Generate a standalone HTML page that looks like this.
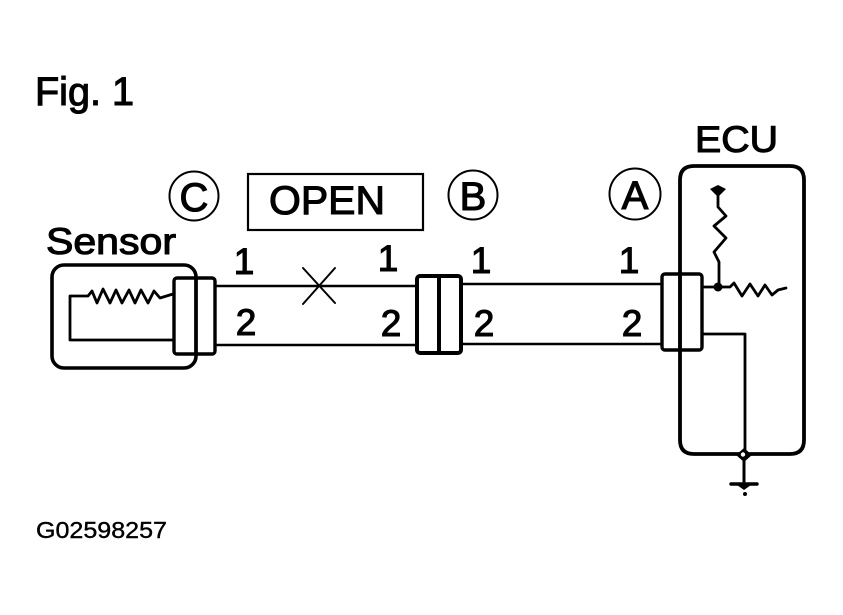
<!DOCTYPE html>
<html>
<head>
<meta charset="utf-8">
<style>
html,body{margin:0;padding:0;background:#fff;}
svg{display:block;}
text{font-family:"Liberation Sans",sans-serif;fill:#000;stroke:#000;stroke-width:1.1px;}
</style>
</head>
<body>
<svg width="843" height="615" viewBox="0 0 843 615" xmlns="http://www.w3.org/2000/svg">
<g fill="none" stroke="#000" stroke-linejoin="round" stroke-linecap="round">
  <!-- Sensor box -->
  <rect x="52" y="265" width="144" height="103" rx="12" stroke-width="3.6"/>
  <!-- ECU box -->
  <path d="M680 350V180Q680 166 694 166H790Q804 166 804 180V440Q804 454 790 454H694Q680 454 680 440Z" stroke-width="3.8"/>
  <path d="M680 273V350" stroke-width="3.4"/>

  <!-- Connectors -->
  <rect x="174" y="278" width="41" height="76" rx="3" stroke-width="3.4"/>
  <path d="M196 278V354" stroke-width="3.4"/>
  <rect x="417" y="276" width="44" height="77" rx="3" stroke-width="4"/>
  <path d="M439 276V353" stroke-width="4"/>
  <rect x="662" y="274" width="40" height="76" rx="3" stroke-width="3.4"/>

  <!-- Wires -->
  <path d="M215 286H417" stroke-width="2.4"/>
  <path d="M215 345H417" stroke-width="2.4"/>
  <path d="M461 284H662" stroke-width="2.4"/>
  <path d="M461 344H662" stroke-width="2.4"/>

  <!-- Open cross -->
  <path d="M303 268L335 303M335 268L303 304" stroke-width="2"/>

  <!-- Sensor wiring -->
  <path d="M173 340H70V296H88L92 291L97 303L103 289L110 303L116 290L122 303L129 290L135 303L141 290L148 303L154 291L160 298L173 294" stroke-width="2.8"/>

  <!-- ECU wiring -->
  <path d="M702 287H717" stroke-width="2.8"/>
  <path d="M718 190V207L726 216L714 226L726 238L714 252L719 262V287" stroke-width="2.8"/>
  <path d="M718 287H730L734 283L742 296L750 284L758 296L765 285L772 295L778 290L786 288" stroke-width="2.8"/>
  <path d="M702 334H745V451" stroke-width="2.8"/>
  <path d="M744 458V484" stroke-width="3"/>
  <path d="M731 484H757" stroke-width="3.4"/>
</g>
<!-- Nodes and ground -->
<path d="M710 189L718 185L726 189L718 197Z" fill="#000"/>
<circle cx="718" cy="287" r="4.5" fill="#000"/>
<path d="M744 448L752 455L744 462L736 455Z" fill="#000"/>
<circle cx="743" cy="454.500" r="2.2" fill="#fff"/>
<path d="M737 485H751L744 490Z" fill="#000"/>
<circle cx="745" cy="494" r="2" fill="#000"/>

<!-- Reference circles -->
<g fill="none" stroke="#000" stroke-width="2">
  <circle cx="194" cy="196" r="24.5"/>
  <circle cx="473" cy="195" r="24.5"/>
  <circle cx="635" cy="194" r="25.5"/>
</g>
<!-- OPEN box -->
<rect x="248" y="174" width="175" height="56" fill="none" stroke="#000" stroke-width="2.2"/>

<!-- Text -->
<text x="35" y="105" font-size="40" textLength="99" lengthAdjust="spacingAndGlyphs">Fig. 1</text>
<text x="695" y="152" font-size="37" textLength="83" lengthAdjust="spacingAndGlyphs">ECU</text>
<text x="46" y="254" font-size="37" textLength="130" lengthAdjust="spacingAndGlyphs">Sensor</text>
<text x="269" y="214" font-size="40" textLength="116" lengthAdjust="spacingAndGlyphs">OPEN</text>
<text x="194" y="211" font-size="40" text-anchor="middle">C</text>
<text x="473" y="210" font-size="40" text-anchor="middle">B</text>
<text x="635" y="209" font-size="40" text-anchor="middle">A</text>
<text x="244" y="274" font-size="37" text-anchor="middle">1</text>
<text x="388" y="271" font-size="37" text-anchor="middle">1</text>
<text x="481" y="273" font-size="37" text-anchor="middle">1</text>
<text x="629" y="273" font-size="37" text-anchor="middle">1</text>
<text x="246" y="335" font-size="37" text-anchor="middle">2</text>
<text x="391" y="336" font-size="37" text-anchor="middle">2</text>
<text x="484" y="336" font-size="37" text-anchor="middle">2</text>
<text x="632" y="336" font-size="37" text-anchor="middle">2</text>
<text x="36" y="538" font-size="23" textLength="131" lengthAdjust="spacingAndGlyphs" style="stroke-width:.4px">G02598257</text>
</svg>
</body>
</html>
